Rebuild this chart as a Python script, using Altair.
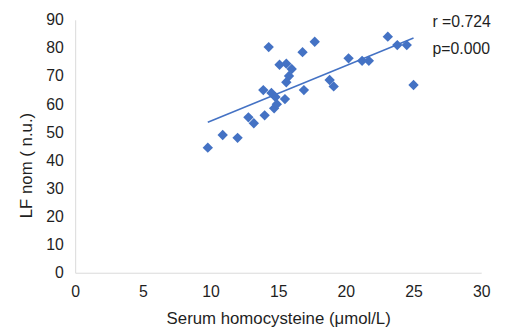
import altair as alt
import pandas as pd

hcy = [9.8, 10.9, 12.0, 12.8, 13.2, 14.0, 13.9, 14.3, 14.5, 14.8, 14.7, 14.9,
       15.5, 15.1, 15.6, 16.0, 15.8, 15.6, 16.8, 16.9, 17.7, 18.8, 19.1, 20.2,
       21.2, 21.7, 23.1, 23.8, 24.5, 25.0]
lf = [44.5, 49.0, 48.0, 55.3, 53.2, 56.0, 65.0, 80.3, 64.0, 62.5, 58.5, 60.0,
      61.8, 74.0, 74.4, 72.5, 70.0, 67.8, 78.5, 65.0, 82.2, 68.6, 66.3, 76.3,
      75.4, 75.4, 84.0, 81.0, 81.0, 66.8]

ann_x = [26.4, 26.4]
ann_y = [87.5, 77.7]
ann_text = ["r =0.724", "p=0.000"]

df = pd.DataFrame({"x": hcy, "y": lf})
ann = pd.DataFrame({"x": ann_x, "y": ann_y, "t": ann_text})

FONT = "Liberation Sans"
blue = "#4472C4"
TXT = "#1f1f1f"

xs = alt.Scale(domain=[0, 30], nice=False)
ys = alt.Scale(domain=[0, 90], nice=False)

xaxis = alt.Axis(values=[0, 5, 10, 15, 20, 25, 30], grid=False, ticks=False,
                 domainColor="#d9d9d9", labelFontSize=16, labelColor=TXT,
                 labelPadding=11, titleFontSize=17, titleColor=TXT,
                 titleFontWeight="normal", labelFont=FONT, titleFont=FONT,
                 labelOverlap=False, labelFlush=False,
                 titleY=51, titleBaseline="alphabetic")
yaxis = alt.Axis(values=list(range(0, 91, 10)), grid=False, ticks=False,
                 domainColor="#d9d9d9", labelFontSize=16, labelColor=TXT,
                 labelPadding=12, titleFontSize=17, titleColor=TXT,
                 titleFontWeight="normal", labelFont=FONT, titleFont=FONT,
                 labelOverlap=False, labelFlush=False,
                 titleX=-44, titleY=147, titleBaseline="alphabetic")

X = alt.X("x:Q", scale=xs, axis=xaxis, title="Serum homocysteine (μmol/L)")
Y = alt.Y("y:Q", scale=ys, axis=yaxis, title="LF nom ( n.u.)")

pts = alt.Chart(df).mark_point(shape="diamond", filled=True, size=110,
                               color=blue, opacity=1).encode(x=X, y=Y)

line = alt.Chart(df).transform_regression("x", "y").mark_line(
    color=blue, strokeWidth=1.5).encode(x=X, y=Y)

txt = alt.Chart(ann).mark_text(align="left", baseline="alphabetic", fontSize=16,
                               font=FONT, color=TXT).encode(
    x=X, y=Y, text="t:N",
)

chart = alt.layer(line, pts, txt).properties(
    width=411, height=256,
    autosize=alt.AutoSizeParams(type="none"),
    padding={"left": 68, "top": 10, "right": 16, "bottom": 56},
).configure_view(stroke=None)

chart.save("out.html", embed_options={"renderer": "svg", "actions": False})
